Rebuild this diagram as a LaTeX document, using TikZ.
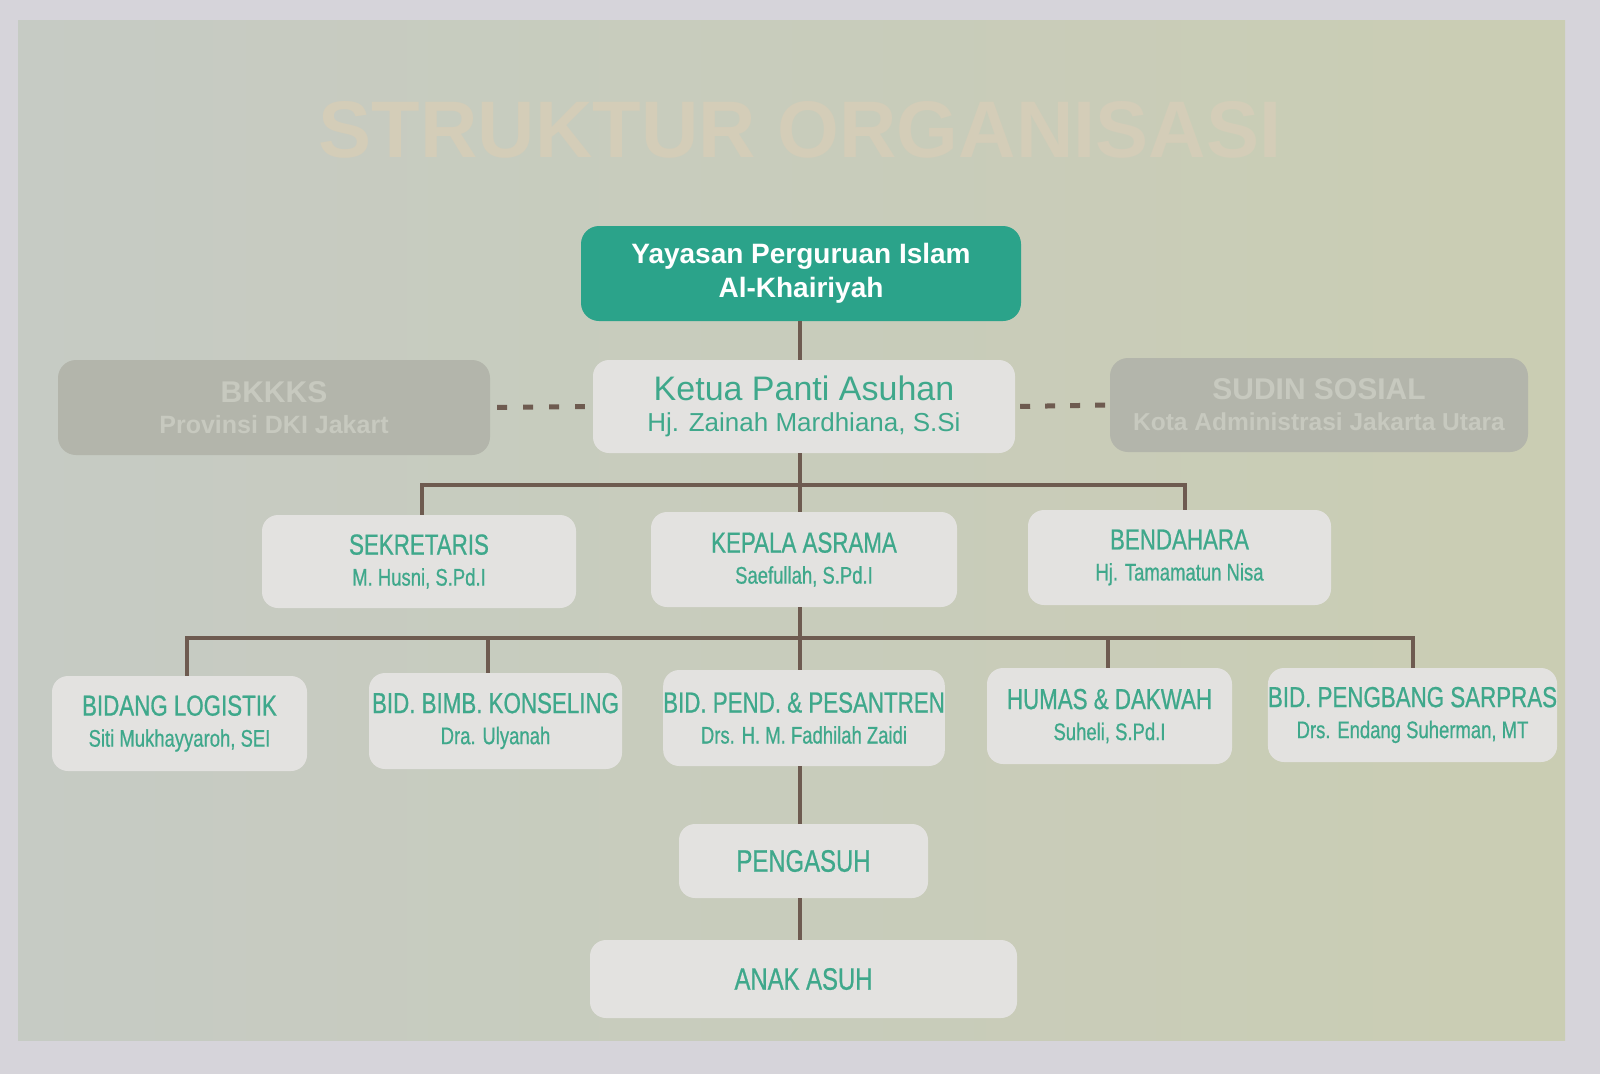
\documentclass[tikz,border=0pt]{standalone}
\usepackage{fontspec}
\setmainfont{Liberation Sans}
\newfontfamily\condfont{Liberation Sans}[FakeStretch=0.77,FakeBold=0.7]
\usepackage{graphicx}
\definecolor{framec}{HTML}{D6D4DA}
\definecolor{panelL}{HTML}{C6CBC4}
\definecolor{panelR}{HTML}{CACDB3}
\definecolor{titlec}{HTML}{D4CDB8}
\definecolor{tealbox}{HTML}{2BA38A}
\definecolor{boxfill}{HTML}{E3E2E0}
\definecolor{txtg}{HTML}{3FA88B}
\definecolor{linec}{HTML}{6E5B50}
\definecolor{gboxc}{HTML}{B3B5AB}
\definecolor{gtxt}{HTML}{C7C9BF}
\newcommand\rowhead{\condfont\fontsize{29}{31}\selectfont}
\newcommand\rowsub{\condfont\fontsize{24}{31}\selectfont}
\begin{document}
\begin{tikzpicture}[x=1pt,y=-1pt,
  box/.style={fill=boxfill, rounded corners=16pt, inner sep=0pt, align=center, text=txtg,
    font=\condfont\fontsize{24}{31}\selectfont},
  gbox/.style={fill=gboxc, rounded corners=18pt, inner sep=0pt, align=center, text=gtxt},
  conn/.style={draw=linec, line width=4pt},
  dashline/.style={draw=linec, line width=5pt, dash pattern=on 10pt off 16pt}]
\useasboundingbox (0,0) rectangle (1600,1074);
\fill[framec] (0,0) rectangle (1600,1074);
\shade[left color=panelL, right color=panelR] (18,20) rectangle (1565,1040);

\node[text=titlec, inner sep=0pt] (title) at (800,130)
  {\resizebox{962pt}{56pt}{\bfseries STRUKTUR ORGANISASI}};

% trunk and drop positions
\coordinate (trunk) at (800,0);
\coordinate (bus1) at (800,485);
\coordinate (bus2) at (800,638);
\coordinate (dSek) at (422,0);
\coordinate (dBen) at (1185,0);
\coordinate (dLog) at (187,0);
\coordinate (dBimb) at (488,0);
\coordinate (dHumas) at (1108,0);
\coordinate (dSarp) at (1413,0);

% nodes
\node[fill=tealbox, rounded corners=18pt, minimum width=440pt, minimum height=95pt,
  inner sep=0pt, align=center, text=white, font=\bfseries\fontsize{28}{34}\selectfont]
  (yay) at (801,273.5) {Yayasan Perguruan Islam\\Al-Khairiyah};

\node[box, minimum width=422pt, minimum height=93pt, font=\fontsize{26}{31}\selectfont]
  (ketua) at (804,406.5) {{\fontsize{34}{31}\selectfont Ketua Panti Asuhan}\\Hj. Zainah Mardhiana, S.Si};

\node[gbox, minimum width=432pt, minimum height=95pt, font=\bfseries\fontsize{25}{31}\selectfont]
  (bkkks) at (274,407.5) {{\fontsize{30}{31}\selectfont BKKKS}\\Provinsi DKI Jakart};
\node[gbox, minimum width=418pt, minimum height=94pt, font=\bfseries\fontsize{24.5}{31}\selectfont]
  (sudin) at (1319,405) {{\fontsize{30}{31}\selectfont SUDIN SOSIAL}\\Kota Administrasi Jakarta Utara};

\node[box, minimum width=314pt, minimum height=93pt] (sek) at (419,561.5)
  {{\rowhead SEKRETARIS}\\{\rowsub M. Husni, S.Pd.I}};
\node[box, minimum width=306pt, minimum height=95pt] (kep) at (804,559.5)
  {{\rowhead KEPALA ASRAMA}\\{\rowsub Saefullah, S.Pd.I}};
\node[box, minimum width=303pt, minimum height=95pt] (ben) at (1179.5,557.5)
  {{\rowhead BENDAHARA}\\{\rowsub Hj. Tamamatun Nisa}};

\node[box, minimum width=255pt, minimum height=95pt] (log) at (179.5,723.5)
  {{\rowhead BIDANG LOGISTIK}\\{\rowsub Siti Mukhayyaroh, SEI}};
\node[box, minimum width=253pt, minimum height=96pt] (bimb) at (495.5,721)
  {{\rowhead BID. BIMB. KONSELING}\\{\rowsub Dra. Ulyanah}};
\node[box, minimum width=248pt, minimum height=96pt] (pend) at (804,718)
  {{\rowhead BID. PEND. \& PESANTREN}\\{\rowsub Drs. H. M. Fadhilah Zaidi}};
\node[box, minimum width=245pt, minimum height=96pt] (humas) at (1109.5,716)
  {{\rowhead HUMAS \& DAKWAH}\\{\rowsub Suheli, S.Pd.I}};
\node[box, minimum width=245pt, minimum height=94pt] (sarp) at (1412.5,715)
  {{\rowhead BID. PENGBANG SARPRAS}\\{\rowsub Drs. Endang Suherman, MT}};

\node[box, minimum width=249pt, minimum height=74pt, font=\condfont\fontsize{31}{31}\selectfont]
  (peng) at (803.5,861) {PENGASUH};
\node[box, minimum width=427pt, minimum height=78pt, font=\condfont\fontsize{31}{31}\selectfont]
  (anak) at (803.5,979) {ANAK ASUH};

% connectors
\draw[conn] (yay.south -| trunk) -- (ketua.north -| trunk);
\draw[conn] (ketua.south -| trunk) -- (bus1);
\draw[conn] (sek.north -| dSek) |- (bus1) -| (ben.north -| dBen);
\draw[conn] (bus1) -- (kep.north -| trunk);

\draw[conn] (kep.south -| trunk) -- (bus2);
\draw[conn] (log.north -| dLog) |- (bus2) -| (sarp.north -| dSarp);
\draw[conn] (bimb.north -| dBimb) -- (bus2 -| dBimb);
\draw[conn] (humas.north -| dHumas) -- (bus2 -| dHumas);
\draw[conn] (bus2) -- (pend.north -| trunk);
\draw[conn] (pend.south -| trunk) -- (peng.north -| trunk);
\draw[conn] (peng.south -| trunk) -- (anak.north -| trunk);

\draw[dashline, shorten <=7pt, shorten >=8pt] (bkkks.east) -- (ketua.west);
\draw[dashline, shorten <=5pt, shorten >=3pt, dash pattern=on 10pt off 15pt] (ketua.east) -- (sudin.west);
\end{tikzpicture}
\end{document}
